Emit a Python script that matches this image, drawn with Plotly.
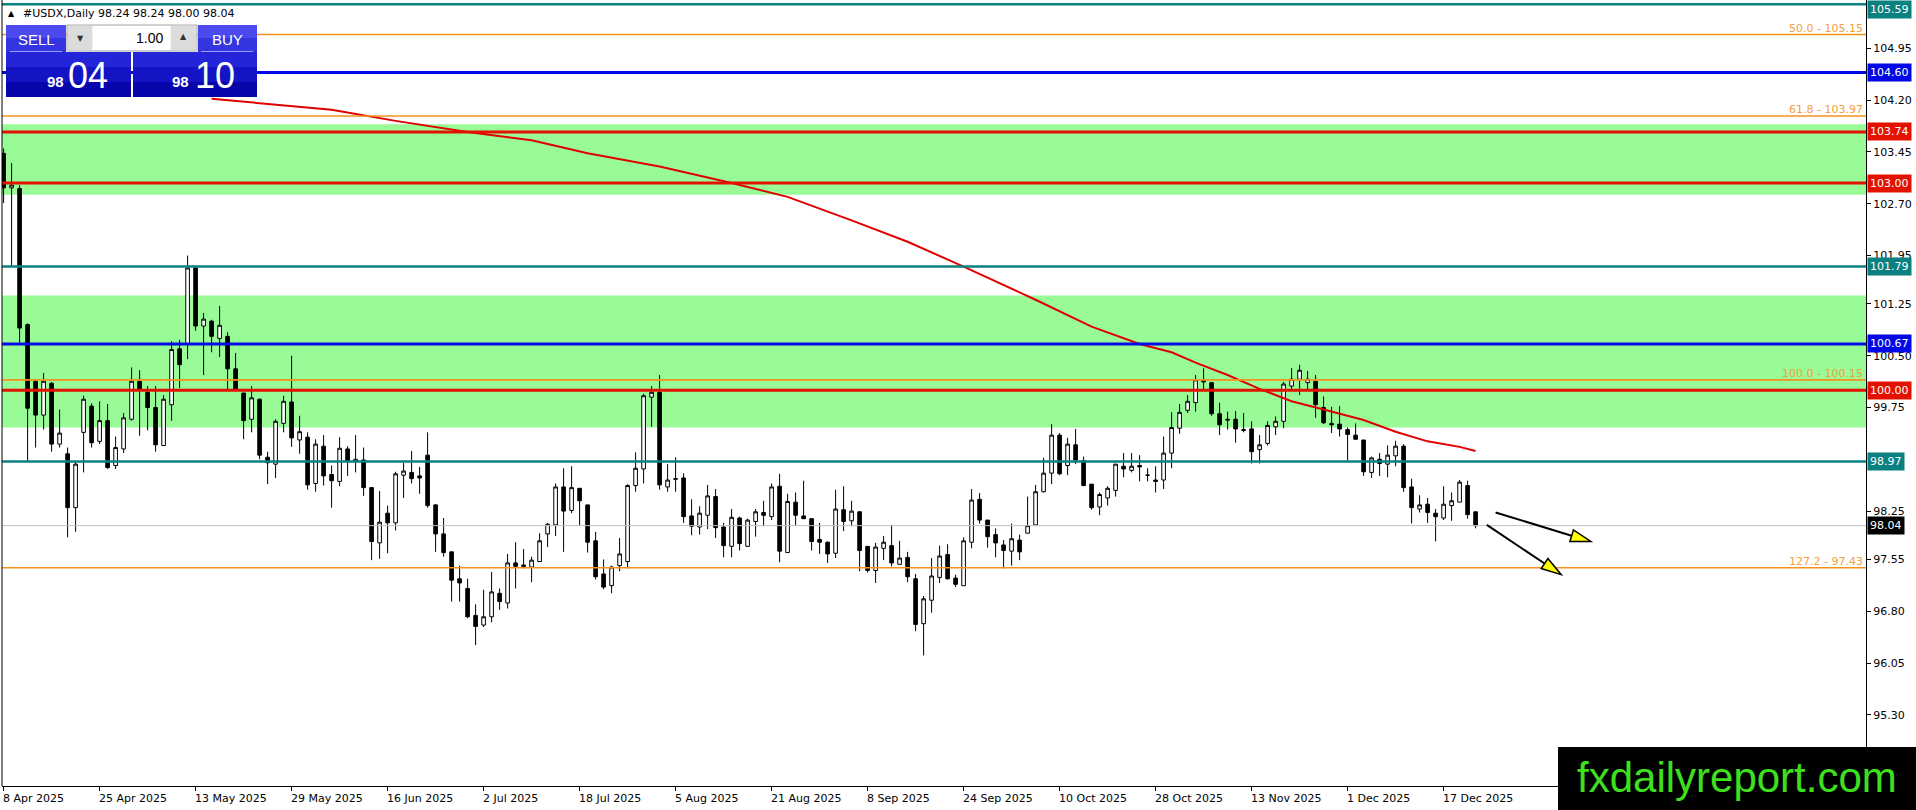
import math
import pandas as pd
import plotly.graph_objects as go

# ---- data ----------------------------------------------------------------
# daily bars, Good Friday (18 Apr) has no bar
dates = [d.strftime("%Y-%m-%d") for d in pd.bdate_range("2025-04-08", "2025-12-23")
         if d.strftime("%Y-%m-%d") != "2025-04-18"]

opens = [
    103.43, 102.93, 102.92, 100.95, 100.13, 99.64, 100.10, 99.22, 99.08, 98.30,
    99.39, 99.77, 99.26, 99.56, 98.91, 99.15, 99.58, 100.13, 99.97, 99.75,
    99.20, 99.79, 100.60, 100.67, 101.77, 100.93, 101.00, 100.75, 100.78, 100.31,
    99.96, 99.58, 99.87, 99.03, 98.93, 99.52, 99.83, 99.28, 99.32, 98.65,
    99.19, 98.78, 98.68, 99.15, 98.97, 98.99, 98.59, 97.79, 98.22, 98.08,
    98.77, 98.81, 98.76, 99.06, 98.34, 97.92, 97.66, 97.27, 97.13, 96.74,
    96.60, 96.72, 97.06, 96.92, 97.50, 97.47, 97.44, 97.52, 97.92, 98.05,
    98.60, 98.26, 98.58, 98.34, 97.82, 97.34, 97.17, 97.46, 97.52, 98.62,
    98.86, 99.90, 99.97, 98.60, 98.71, 98.73, 98.18, 98.02, 98.19, 98.46,
    98.02, 97.74, 98.15, 97.74, 98.10, 98.23, 98.17, 98.61, 97.65, 98.38,
    98.18, 98.14, 97.84, 97.80, 97.64, 98.27, 98.11, 98.24, 97.74, 97.39,
    97.71, 97.75, 97.48, 97.58, 97.27, 96.62, 96.96, 97.29, 97.62, 97.28,
    97.17, 97.80, 98.42, 98.12, 97.91, 97.76, 97.67, 97.83, 97.93, 98.05,
    98.53, 98.80, 99.35, 98.91, 99.21, 98.98, 98.64, 98.31, 98.44, 98.55,
    98.90, 98.84, 98.91, 98.77, 98.70, 98.70, 99.09, 99.45, 99.71, 99.82,
    100.14, 100.11, 99.66, 99.58, 99.58, 99.43, 99.44, 99.14, 99.23, 99.47,
    99.55, 100.06, 100.16, 100.11, 100.13, 99.75, 99.52, 99.51, 99.43, 99.35,
    99.28, 98.81, 99.00, 98.93, 99.05, 99.19, 98.60, 98.28, 98.35, 98.22,
    98.15, 98.33, 98.38, 98.62, 98.24,
]
highs = [
    103.50, 103.29, 102.97, 100.97, 100.15, 100.25, 100.12, 99.72, 99.17, 98.97,
    99.92, 99.81, 99.84, 99.80, 99.33, 99.67, 100.33, 100.29, 100.06, 100.06,
    99.93, 100.71, 100.73, 101.95, 101.79, 101.12, 101.02, 101.22, 100.84, 100.54,
    99.96, 100.06, 99.88, 99.11, 99.58, 99.92, 100.50, 99.63, 99.39, 99.29,
    99.35, 98.91, 99.32, 99.19, 99.35, 99.17, 98.59, 98.54, 98.33, 98.82,
    98.95, 99.12, 98.89, 99.39, 98.35, 98.15, 97.66, 97.46, 97.27, 96.90,
    97.11, 97.37, 97.13, 97.63, 97.80, 97.70, 97.59, 97.93, 98.08, 98.65,
    98.87, 98.90, 98.58, 98.34, 97.95, 97.55, 97.46, 97.86, 98.64, 99.10,
    99.95, 100.06, 100.22, 98.93, 99.03, 98.80, 98.42, 98.32, 98.63, 98.57,
    98.08, 98.28, 98.17, 98.14, 98.28, 98.40, 98.65, 98.79, 98.50, 98.52,
    98.69, 98.14, 98.08, 97.81, 98.56, 98.61, 98.40, 98.25, 97.74, 97.79,
    97.89, 98.05, 97.82, 97.66, 97.34, 97.02, 97.57, 97.75, 97.77, 97.33,
    97.87, 98.57, 98.51, 98.12, 98.00, 97.83, 98.07, 97.91, 98.46, 98.63,
    99.02, 99.51, 99.38, 99.31, 99.44, 99.04, 98.64, 98.52, 98.61, 98.93,
    99.09, 99.09, 99.06, 98.87, 98.90, 99.33, 99.68, 99.80, 99.93, 100.22,
    100.32, 100.12, 99.82, 99.69, 99.70, 99.67, 99.55, 99.35, 99.55, 99.62,
    100.12, 100.32, 100.37, 100.28, 100.22, 99.91, 99.76, 99.77, 99.46, 99.52,
    99.28, 99.04, 99.09, 99.20, 99.27, 99.22, 98.72, 98.48, 98.44, 98.28,
    98.61, 98.52, 98.70, 98.69, 98.24,
]
lows = [
    102.71, 101.79, 100.69, 98.97, 99.17, 99.43, 99.11, 99.17, 97.87, 97.95,
    98.81, 99.17, 99.22, 98.86, 98.86, 99.09, 99.56, 99.34, 99.42, 99.11,
    99.20, 99.56, 100.03, 100.45, 100.86, 100.22, 100.55, 100.48, 100.01, 100.01,
    99.29, 99.39, 99.00, 98.64, 98.73, 99.39, 99.18, 99.08, 98.56, 98.53,
    98.62, 98.30, 98.61, 98.76, 98.81, 98.47, 97.54, 97.56, 97.64, 97.97,
    98.44, 98.65, 98.50, 98.30, 97.66, 97.59, 96.94, 96.94, 96.70, 96.31,
    96.57, 96.64, 96.82, 96.84, 97.13, 97.42, 97.22, 97.52, 97.73, 97.89,
    97.66, 98.22, 98.04, 97.65, 97.26, 97.12, 97.06, 97.38, 97.42, 98.53,
    98.65, 99.47, 98.56, 98.53, 98.53, 98.08, 97.90, 97.91, 97.99, 97.86,
    97.58, 97.58, 97.68, 97.73, 97.88, 98.03, 98.12, 97.51, 97.65, 98.04,
    98.14, 97.68, 97.63, 97.50, 97.57, 97.96, 98.03, 97.38, 97.36, 97.21,
    97.54, 97.45, 97.48, 97.22, 96.51, 96.16, 96.78, 97.21, 97.26, 97.15,
    97.17, 97.71, 98.07, 97.72, 97.58, 97.42, 97.46, 97.54, 97.93, 98.05,
    98.52, 98.64, 98.77, 98.77, 98.93, 98.61, 98.27, 98.19, 98.33, 98.46,
    98.74, 98.81, 98.68, 98.68, 98.52, 98.57, 98.87, 99.37, 99.67, 99.69,
    100.01, 99.63, 99.35, 99.43, 99.24, 99.39, 98.94, 98.94, 99.20, 99.35,
    99.45, 100.00, 99.93, 100.01, 99.60, 99.51, 99.38, 99.33, 98.98, 99.29,
    98.76, 98.73, 98.76, 98.74, 98.90, 98.53, 98.07, 98.23, 98.08, 97.81,
    98.12, 98.11, 98.38, 98.14, 98.00,
]
closes = [
    102.93, 102.97, 100.90, 99.74, 99.64, 100.13, 99.22, 99.38, 98.30, 98.93,
    99.87, 99.24, 99.56, 98.88, 99.17, 99.60, 100.13, 100.00, 99.75, 99.21,
    99.87, 100.59, 100.37, 101.77, 100.93, 101.03, 100.78, 100.94, 100.31, 100.01,
    99.56, 99.89, 99.06, 98.95, 99.55, 99.84, 99.31, 99.40, 98.63, 99.22,
    98.76, 98.69, 99.16, 98.98, 99.00, 98.59, 97.81, 98.09, 98.08, 98.79,
    98.83, 98.72, 98.73, 98.33, 97.92, 97.65, 97.25, 97.21, 96.72, 96.58,
    96.72, 97.08, 96.94, 97.50, 97.45, 97.45, 97.54, 97.82, 98.06, 98.60,
    98.25, 98.59, 98.40, 97.80, 97.30, 97.15, 97.44, 97.63, 98.62, 98.87,
    99.92, 99.97, 98.63, 98.70, 98.72, 98.17, 98.03, 98.22, 98.47, 98.01,
    97.75, 98.16, 97.78, 98.12, 98.24, 98.19, 98.60, 97.67, 98.39, 98.19,
    98.14, 97.81, 97.80, 97.63, 98.28, 98.10, 98.25, 97.68, 97.39, 97.73,
    97.80, 97.50, 97.57, 97.30, 96.61, 96.98, 97.31, 97.60, 97.27, 97.19,
    97.82, 98.41, 98.12, 97.88, 97.79, 97.68, 97.85, 97.66, 98.04, 98.53,
    98.80, 99.35, 98.79, 99.22, 98.99, 98.62, 98.30, 98.49, 98.58, 98.93,
    98.86, 98.90, 98.89, 98.77, 98.68, 99.09, 99.46, 99.68, 99.84, 100.15,
    100.12, 99.66, 99.50, 99.57, 99.44, 99.42, 99.11, 99.21, 99.49, 99.55,
    100.09, 100.16, 100.29, 100.16, 99.79, 99.53, 99.50, 99.44, 99.36, 99.29,
    98.82, 99.02, 98.94, 99.06, 99.19, 98.59, 98.30, 98.34, 98.23, 98.17,
    98.35, 98.40, 98.67, 98.20, 98.04,
]

# moving average (red line), read at a few bars
ma_dates = ["2025-05-15", "2025-05-27", "2025-06-05", "2025-06-17", "2025-06-30",
            "2025-07-10", "2025-07-21", "2025-08-01", "2025-08-14", "2025-08-25",
            "2025-09-04", "2025-09-15", "2025-09-24", "2025-10-07", "2025-10-16",
            "2025-10-24", "2025-10-30", "2025-11-04", "2025-11-10", "2025-11-14",
            "2025-11-20", "2025-11-26", "2025-12-03", "2025-12-09", "2025-12-15",
            "2025-12-19", "2025-12-23"]
ma_values = [104.22, 104.14, 104.06, 103.90, 103.74,
             103.62, 103.43, 103.24, 103.00, 102.80,
             102.46, 102.15, 101.79, 101.31, 100.92,
             100.67, 100.55, 100.40, 100.22, 100.02,
             99.84, 99.72, 99.57, 99.40, 99.26,
             99.18, 99.12]

teal_levels = [105.59, 101.79, 98.97]
blue_levels = [104.60, 100.67]
red_levels = [103.74, 103.00, 100.00]
fib_levels = [105.15, 103.97, 100.15, 97.43]
fib_names = ["50.0", "61.8", "100.0", "127.2"]
zones = [(102.83, 103.85), (99.46, 101.37)]
last_price = 98.04

y_ticks = [104.95, 104.20, 103.45, 102.70, 101.95, 101.25, 100.50, 99.75,
           98.25, 97.55, 96.80, 96.05, 95.30]

xlabel_dates = ["2025-04-08", "2025-04-25", "2025-05-13", "2025-05-29", "2025-06-16",
                "2025-07-02", "2025-07-18", "2025-08-05", "2025-08-21", "2025-09-08",
                "2025-09-24", "2025-10-10", "2025-10-28", "2025-11-13", "2025-12-01",
                "2025-12-17"]
xlabel_text = ["8 Apr 2025", "25 Apr 2025", "13 May 2025", "29 May 2025", "16 Jun 2025",
               "2 Jul 2025", "18 Jul 2025", "5 Aug 2025", "21 Aug 2025", "8 Sep 2025",
               "24 Sep 2025", "10 Oct 2025", "28 Oct 2025", "13 Nov 2025", "1 Dec 2025",
               "17 Dec 2025"]

# projection arrows drawn on the chart: (bar, price) -> (bar, price)
arrow_lines = [(186.5, 98.23, 198.4, 97.81), (185.4, 98.05, 194.7, 97.33)]

# ---- layout constants ---------------------------------------------------------
W, H = 1916, 810
ML, MR, MT, MB = 2, 50, 0, 24
PW, PH = W - ML - MR, H - MT - MB
X_RANGE = [-0.2, 232.8]
Y_RANGE = [94.27, 105.65]
FONT = "DejaVu Sans"

TEAL = "#0a8080"
BLUE = "#0008e6"
RED = "#e31200"
ORANGE = "#f5921e"
FIB_TXT = "#f2a040"
GREEN = "#98fb98"


def fx(p):
    return (p - ML) / PW


def fy(p):
    return 1 - (p - MT) / PH


shapes = []
annotations = []

# zones
for lo, hi in zones:
    shapes.append(dict(type="rect", xref="paper", yref="y", x0=0, x1=1, y0=lo, y1=hi,
                       fillcolor=GREEN, line=dict(width=0), layer="below"))

# horizontal levels
shapes.append(dict(type="line", xref="paper", yref="y", x0=0, x1=1, y0=last_price, y1=last_price,
                   line=dict(color="#c0c0c0", width=1), layer="above"))
for v in fib_levels:
    shapes.append(dict(type="line", xref="paper", yref="y", x0=0, x1=1, y0=v, y1=v,
                       line=dict(color=ORANGE, width=1.6), layer="above"))
for levels, col, w in [(teal_levels, TEAL, 2.5), (blue_levels, BLUE, 3), (red_levels, RED, 3)]:
    for v in levels:
        shapes.append(dict(type="line", xref="paper", yref="y", x0=0, x1=1, y0=v, y1=v,
                           line=dict(color=col, width=w), layer="above"))

# fib texts
for name, v in zip(fib_names, fib_levels):
    annotations.append(dict(xref="paper", yref="y", x=1, y=v, xanchor="right", yanchor="bottom",
                            xshift=-1, yshift=-2, showarrow=False, text=f"{name} - {v:.2f}",
                            font=dict(family=FONT, size=11, color=FIB_TXT)))

# price labels on the right scale
price_tags = ([(v, TEAL) for v in teal_levels] + [(v, BLUE) for v in blue_levels] +
              [(v, RED) for v in red_levels] + [(last_price, "black")])
for v, col in price_tags:
    tag = dict(xref="paper", yref="y", x=1, y=v, xanchor="left", yanchor="middle",
               xshift=1, showarrow=False, text=f"{v:.2f}", bgcolor=col, borderpad=2,
               font=dict(family=FONT, size=11, color="white"))
    if v > Y_RANGE[1] - 0.1:
        # top tag sits against the top edge instead of being cut
        tag.update(yref="paper", y=1, yanchor="top")
    annotations.append(tag)

# date labels (left aligned at tick, MT4 style)
for d, t in zip(xlabel_dates, xlabel_text):
    annotations.append(dict(xref="x", yref="paper", x=d, y=0, xanchor="left", yanchor="top",
                            xshift=-3, yshift=-4, showarrow=False, text=t,
                            font=dict(family=FONT, size=11, color="black")))

# arrows
bar_px = PW / (X_RANGE[1] - X_RANGE[0])
price_px = PH / (Y_RANGE[1] - Y_RANGE[0])
for x0, y0, x1, y1 in arrow_lines:
    dxp = (x1 - x0) * bar_px
    dyp = -(y1 - y0) * price_px
    L = math.hypot(dxp, dyp)
    ux, uy = dxp / L, dyp / L
    nx, ny = -uy, ux
    head, half = 20, 6
    bx, by = -head * ux, -head * uy
    pts = [(0, 0), (bx + half * nx, by + half * ny), (bx - half * nx, by - half * ny)]
    conv = [(x1 + px_ / bar_px, y1 - py_ / price_px) for px_, py_ in pts]
    shapes.append(dict(type="line", xref="x", yref="y", x0=x0, y0=y0,
                       x1=x1 + bx / bar_px, y1=y1 - by / price_px,
                       line=dict(color="black", width=2), layer="above"))
    path = "M {} {} L {} {} L {} {} Z".format(*[c for p in conv for c in p])
    shapes.append(dict(type="path", xref="x", yref="y", path=path, fillcolor="#ffff00",
                       line=dict(color="black", width=1.5), layer="above"))

# chart left border
shapes.append(dict(type="line", xref="paper", yref="paper", x0=0, x1=0, y0=0, y1=1,
                   line=dict(color="black", width=1), layer="above"))


# one-click trading panel
def box(x0, y0, x1, y1, fill, line=None):
    shapes.append(dict(type="rect", xref="paper", yref="paper", x0=fx(x0), x1=fx(x1),
                       y0=fy(y1), y1=fy(y0), fillcolor=fill,
                       line=dict(color=line or fill, width=1 if line else 0), layer="above"))


def label(x, y, text, size, color="white", family="Liberation Sans", anchor="center", bold=False):
    if bold:
        text = f"<b>{text}</b>"
    annotations.append(dict(xref="paper", yref="paper", x=fx(x), y=fy(y), xanchor=anchor,
                            yanchor="middle", showarrow=False, text=text,
                            font=dict(family=family, size=size, color=color)))


box(6, 25, 66, 38, "#4a4aee")
box(6, 38, 66, 52, "#3434e0")
box(198, 25, 257, 38, "#4a4aee")
box(198, 38, 257, 52, "#3434e0")
for x0, x1 in [(6, 131), (133, 257)]:
    box(x0, 52, x1, 67, "#2424d8")
    box(x0, 67, x1, 82, "#1414c4")
    box(x0, 82, x1, 97, "#0606aa")
shapes.append(dict(type="line", xref="paper", yref="paper", x0=fx(10), x1=fx(62), y0=fy(51.5), y1=fy(51.5),
                   line=dict(color="#9a9aff", width=1), layer="above"))
shapes.append(dict(type="line", xref="paper", yref="paper", x0=fx(201), x1=fx(253), y0=fy(51.5), y1=fy(51.5),
                   line=dict(color="#9a9aff", width=1), layer="above"))
box(67, 25, 197, 51, "#f0f0f0", "#a8a8a8")
box(68, 26, 92, 50, "#dcdcdc")
box(93, 26, 170, 50, "white")
box(171, 26, 196, 50, "#dcdcdc")
label(80, 38, "▼", 8, "#303030", FONT)
label(183, 37, "▲", 8, "#303030", FONT)
label(165, 38, "1.00", 14, "black", "Liberation Sans", anchor="right")
label(36, 39, "SELL", 15)
label(227, 39, "BUY", 15)
label(55, 82, "98", 15, bold=True)
label(88, 75, "04", 36)
label(180, 82, "98", 15, bold=True)
label(215, 75, "10", 36)

# header
label(11, 13, "▲", 8, "black", FONT)
label(21, 13, "#USDX,Daily 98.24 98.24 98.00 98.04", 11, "black", FONT, anchor="left")

# watermark
shapes.append(dict(type="rect", xref="paper", yref="paper", x0=fx(1558), x1=fx(1917), y0=fy(811), y1=fy(747),
                   fillcolor="black", line=dict(width=0), layer="above"))
label(1737, 777, "fxdailyreport.com", 42, "#3ee01e", "Liberation Sans")

# ---- figure -------------------------------------------------------------------
fig = go.Figure()
fig.add_trace(go.Candlestick(
    x=dates, open=opens, high=highs, low=lows, close=closes,
    increasing=dict(line=dict(color="black", width=1), fillcolor="white"),
    decreasing=dict(line=dict(color="black", width=1), fillcolor="black"),
    whiskerwidth=0, showlegend=False, hoverinfo="skip",
))
fig.add_trace(go.Scatter(x=ma_dates, y=ma_values, mode="lines",
                         line=dict(color="#e00000", width=2), showlegend=False, hoverinfo="skip"))

fig.update_layout(
    width=W, height=H,
    margin=dict(l=ML, r=MR, t=MT, b=MB),
    paper_bgcolor="white", plot_bgcolor="white",
    font=dict(family=FONT, size=11, color="black"),
    shapes=shapes, annotations=annotations,
    boxgap=0.35,
    xaxis=dict(type="category", range=X_RANGE, rangeslider=dict(visible=False),
               showgrid=False, zeroline=False, tickvals=xlabel_dates, ticks="outside",
               ticklen=4, tickcolor="black", showticklabels=False,
               showline=True, linecolor="black", linewidth=1),
    yaxis=dict(side="right", range=Y_RANGE, showgrid=False, zeroline=False,
               tickvals=y_ticks, ticktext=[f"{v:.2f}" for v in y_ticks],
               ticks="outside", ticklen=4, tickcolor="black",
               tickfont=dict(family=FONT, size=11, color="black"),
               showline=True, linecolor="black", linewidth=1),
)

fig.write_html("out.html", config={"displayModeBar": False},
               post_script="document.body.style.margin='0';document.body.style.overflow='hidden';")
